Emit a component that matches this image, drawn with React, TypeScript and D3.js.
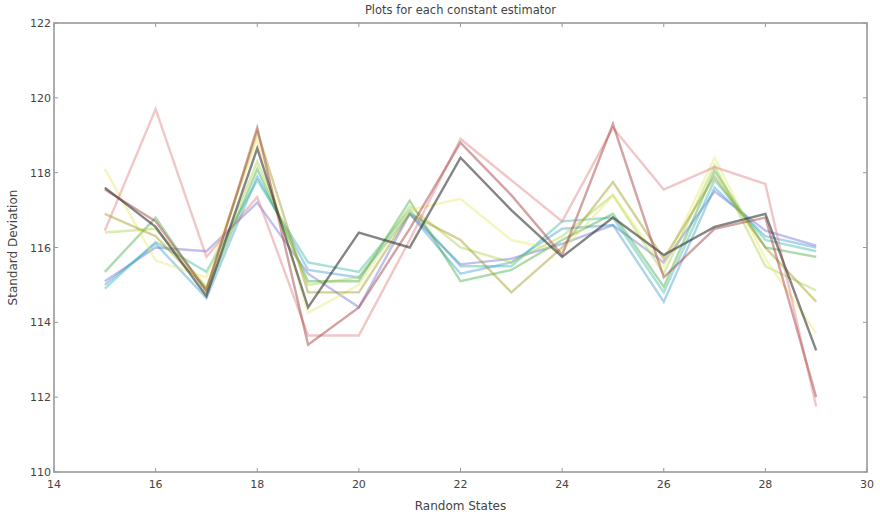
import React from "react";
import * as d3 from "d3";

const xStates = [15, 16, 17, 18, 19, 20, 21, 22, 23, 24, 25, 26, 27, 28, 29];
const xTicks = [14, 16, 18, 20, 22, 24, 26, 28, 30];
const yTicks = [110, 112, 114, 116, 118, 120, 122];

const pink = [116.45, 119.7, 115.75, 117.35, 113.65, 113.65, 116.2, 118.9, 117.8, 116.7, 119.2, 117.55, 118.15, 117.7, 111.75];
const darkRed = [117.55, 116.7, 114.85, 119.2, 113.4, 114.4, 116.5, 118.8, 117.4, 115.8, 119.3, 115.2, 116.5, 116.8, 112.0];
const black = [117.6, 116.55, 114.7, 118.65, 114.4, 116.4, 116.0, 118.4, 117.0, 115.75, 116.8, 115.8, 116.55, 116.9, 113.25];
const olive = [116.9, 116.3, 114.9, 119.1, 114.8, 114.8, 116.9, 116.2, 114.8, 116.0, 117.75, 115.7, 117.9, 116.0, 114.55];
const lightYellow = [118.1, 115.65, 115.2, 118.9, 114.25, 115.0, 117.0, 117.3, 116.2, 115.9, 117.4, 115.5, 118.4, 115.7, 113.7];
const yellowGreen = [116.4, 116.5, 114.95, 118.3, 115.0, 115.2, 117.1, 116.0, 115.6, 116.3, 117.4, 115.3, 118.2, 115.5, 114.85];
const green = [115.35, 116.8, 114.8, 118.1, 115.1, 115.1, 117.25, 115.1, 115.4, 116.2, 116.9, 114.95, 118.05, 116.0, 115.75];
const teal = [114.9, 116.15, 115.35, 117.8, 115.6, 115.35, 117.0, 115.5, 115.5, 116.7, 116.8, 114.8, 117.8, 116.2, 115.9];
const lightBlue = [115.0, 116.1, 114.65, 117.9, 115.4, 115.2, 116.9, 115.3, 115.6, 116.5, 116.6, 114.55, 117.6, 116.3, 116.0];
const bluePurple = [115.1, 116.0, 115.9, 117.2, 115.3, 114.4, 116.9, 115.55, 115.7, 116.1, 116.6, 115.6, 117.5, 116.45, 116.05];

const seriesList = [
  { name: "bluePurple", values: bluePurple, color: "#6a6ad8", opacity: 0.42 },
  { name: "lightBlue", values: lightBlue, color: "#3a9ad0", opacity: 0.42 },
  { name: "teal", values: teal, color: "#30b8a8", opacity: 0.42 },
  { name: "green", values: green, color: "#3aaa3a", opacity: 0.42 },
  { name: "yellowGreen", values: yellowGreen, color: "#a8d040", opacity: 0.42 },
  { name: "lightYellow", values: lightYellow, color: "#e6e660", opacity: 0.4 },
  { name: "olive", values: olive, color: "#a09a20", opacity: 0.45 },
  { name: "pink", values: pink, color: "#e08080", opacity: 0.45 },
  { name: "darkRed", values: darkRed, color: "#a84848", opacity: 0.5 },
  { name: "black", values: black, color: "#333333", opacity: 0.6 },
];

const W = 880;
const H = 520;
const m = { left: 54, right: 867, top: 23, bottom: 472 };

export default function App() {
  const x = d3.scaleLinear().domain([14, 30]).range([m.left, m.right]);
  const y = d3.scaleLinear().domain([110, 122]).range([m.bottom, m.top]);
  const line = d3
    .line<number>()
    .x((_, i) => x(xStates[i]))
    .y((d) => y(d));
  const font = "'DejaVu Sans', sans-serif";
  const textColor = "#444";
  const frame = "#999";
  return (
    <svg
      width={W}
      height={H}
      style={{ position: "absolute", left: 0, top: 0, background: "#fff" }}
      fontFamily={font}
    >
      <rect x={0} y={0} width={W} height={H} fill="#fff" />
      <text x={(m.left + m.right) / 2} y={14} textAnchor="middle" fontSize={11.5} fill={textColor}>
        Plots for each constant estimator
      </text>
      <g>
        {seriesList.map((s) => (
          <path
            key={s.name}
            d={line(s.values) || ""}
            fill="none"
            stroke={s.color}
            strokeOpacity={s.opacity}
            strokeWidth={2.4}
            strokeLinejoin="miter"
          />
        ))}
      </g>
      {xTicks.map((t) => (
        <g key={"x" + t}>
          <line x1={x(t)} x2={x(t)} y1={m.bottom} y2={m.bottom - 4} stroke={frame} strokeWidth={1} />
          <line x1={x(t)} x2={x(t)} y1={m.top} y2={m.top + 4} stroke={frame} strokeWidth={1} />
          <text x={x(t)} y={m.bottom + 16} textAnchor="middle" fontSize={11} fill={textColor}>
            {t}
          </text>
        </g>
      ))}
      {yTicks.map((t) => (
        <g key={"y" + t}>
          <line x1={m.left} x2={m.left + 4} y1={y(t)} y2={y(t)} stroke={frame} strokeWidth={1} />
          <line x1={m.right} x2={m.right - 4} y1={y(t)} y2={y(t)} stroke={frame} strokeWidth={1} />
          <text x={m.left - 3} y={y(t) + 4} textAnchor="end" fontSize={11} fill={textColor}>
            {t}
          </text>
        </g>
      ))}
      <rect
        x={m.left}
        y={m.top}
        width={m.right - m.left}
        height={m.bottom - m.top}
        fill="none"
        stroke={frame}
        strokeWidth={1.6}
      />
      <text x={(m.left + m.right) / 2} y={510} textAnchor="middle" fontSize={12} fill={textColor}>
        Random States
      </text>
      <text
        transform={`translate(17, ${(m.top + m.bottom) / 2}) rotate(-90)`}
        textAnchor="middle"
        fontSize={12}
        fill={textColor}
      >
        Standard Deviation
      </text>
    </svg>
  );
}
